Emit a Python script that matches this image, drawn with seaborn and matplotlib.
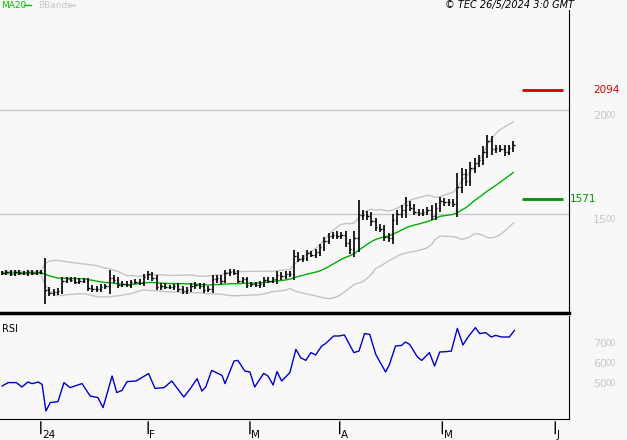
import numpy as np
import pandas as pd
import matplotlib
matplotlib.use("Agg")
import matplotlib.pyplot as plt
import seaborn as sns

closes = [1215,1220,1212,1222,1218,1214,1220,1216,1222,1218,
          1135,1120,1125,1130,1180,1185,1183,1175,1180,1178,
          1145,1140,1138,1150,1155,1190,1183,1160,1165,1158,
          1172,1175,1170,1195,1210,1190,1150,1155,1150,1148,
          1152,1140,1130,1135,1155,1158,1152,1135,1140,1185,
          1190,1180,1215,1222,1218,1180,1185,1160,1162,1158,
          1165,1183,1180,1185,1205,1200,1210,1210,1300,1285,
          1290,1310,1305,1315,1340,1370,1395,1400,1395,1400,
          1360,1330,1385,1495,1495,1490,1465,1435,1430,1390,
          1385,1470,1500,1520,1545,1530,1510,1505,1510,1520,
          1490,1530,1560,1555,1555,1550,1630,1690,1660,1720,
          1745,1760,1800,1850,1810,1815,1810,1800,1815,1830]
spreads = [30,25,30,25,30,25,30,25,30,25,
           200,40,35,40,45,40,35,35,40,30,
           45,40,35,40,30,120,45,40,35,30,
           35,30,35,45,40,35,50,40,35,30,
           35,40,45,40,35,40,35,40,35,55,
           50,45,40,40,35,40,35,40,35,30,
           35,40,35,40,60,45,40,40,80,45,
           40,45,40,45,50,50,45,40,45,40,
           55,60,100,200,70,60,60,50,45,55,
           50,80,60,60,110,50,45,45,40,45,
           60,60,60,50,45,45,190,90,80,80,
           70,60,70,90,70,45,40,60,45,55]
rsi_idx = [0,1.4,3.3,4.6,6.0,7.0,8.4,9.3,10.2,11.2,13,14.4,15.8,18.6,20.5,22.3,23.5,25.6,26.7,27.9,
           29.1,31.2,34.1,35.6,37.7,39.5,42.3,43.7,45.4,46.5,47.4,48.8,51.2,51.9,54,54.9,56.5,57.7,58.8,60.9,
           61.9,63.1,64,65.1,67,68.4,69.5,70.7,71.9,73,74.4,75.3,77.2,78.4,79.7,81.9,83.1,84.4,85.6,87,
           87.4,89.3,90.2,91.6,93,93.9,94.9,96.7,97.7,99.5,100.7,101.9,103.5,104.6,106,107.3,108.4,110.2,111.2,112.6,
           113.9,114.9,116.3,118.1,119.3]
rsi_val = [50.0,51.7,51.7,49.5,52,51.2,52,50.8,37.5,41.7,42.2,51.7,49.2,51.2,45,44.2,39.2,55,46.7,47.8,
           52.2,52.5,56.2,48.8,49.2,52.5,44.5,48.3,53.7,47.5,49.5,57.8,55.3,51.2,62.5,62.8,57.5,57,49.5,56.3,
           55,50.5,57.2,52.5,56.7,68.3,64.2,62.8,66.7,65.5,70,71.2,75,75,75.5,66.7,67.5,76.2,75.8,65.8,
           64.2,57,60.8,70,70.3,72,70.8,64.5,62.8,66.7,60,67,67.2,67.5,78.8,70.5,74.2,79.2,76.2,76.7,
           74.5,75.3,74.5,74.5,77.8]
tick_pos = [9, 34, 57.7, 78.6, 102.5, 128.8]
tick_labels = ["24", "F", "M", "A", "M", "J"]
level_hi, level_lo = 2094, 1571
grid_levels = [2000, 1500]
rsi_levels = [70, 60, 50]

BG = "#f8f8f8"
plt.rcParams["font.family"] = "DejaVu Sans"
fig = plt.figure(figsize=(6.27, 4.4), dpi=100, facecolor=BG)
W, H = 627, 440
def rect(x0, y0, x1, y1):
    return [x0 / W, 1 - y1 / H, (x1 - x0) / W, (y1 - y0) / H]

ax = fig.add_axes(rect(0, 10, 569, 313), facecolor=BG)
ax2 = fig.add_axes(rect(0, 316, 569, 419), facecolor=BG)

n = len(closes)
df = pd.DataFrame({"i": np.arange(n), "close": closes, "spread": spreads})
df["open"] = df["close"].shift(1).fillna(df["close"])
df["high"] = df[["open", "close"]].max(axis=1) + df["spread"] * 0.35
df["low"] = df[["open", "close"]].min(axis=1) - df["spread"] * 0.35
df["ma"] = df["close"].rolling(20, min_periods=1).mean()
sd = df["close"].rolling(20, min_periods=2).std().bfill()
df["up"] = df["ma"] + 2 * sd
df["dn"] = df["ma"] - 2 * sd

XL = (-0.5, 132)
for lv in grid_levels:
    ax.axhline(lv, color="#c8c8c8", lw=1)
sns.lineplot(data=df, x="i", y="up", ax=ax, color="#c4c4c4", lw=1)
sns.lineplot(data=df, x="i", y="dn", ax=ax, color="#c4c4c4", lw=1)
sns.lineplot(data=df, x="i", y="ma", ax=ax, color="#00b000", lw=1)
ax.vlines(df["i"], df["low"], df["high"], color="black", lw=1.2)
ax.hlines(df["open"], df["i"] - 0.35, df["i"], color="black", lw=1)
ax.hlines(df["close"], df["i"], df["i"] + 0.35, color="black", lw=1)
ax.hlines(level_hi, 121, 130.5, color="#d00000", lw=2)
ax.hlines(level_lo, 121, 130.5, color="#009000", lw=2)
ax.set_xlim(*XL)
ax.set_ylim(1024, 2480)

sns.lineplot(x=rsi_idx, y=rsi_val, ax=ax2, color="#0000cc", lw=1)
ax2.set_xlim(*XL)
ax2.set_ylim(33.5, 85)

for a in (ax, ax2):
    a.set_xticks([]); a.set_yticks([])
    a.set_xlabel(""); a.set_ylabel("")
    for s in ("top", "left"):
        a.spines[s].set_visible(False)
    a.spines["right"].set_color("black")
    a.spines["bottom"].set_color("black")
ax.spines["bottom"].set_linewidth(2.5)

for p, lab in zip(tick_pos, tick_labels):
    ax2.annotate("", xy=(p, 0), xycoords=("data", "axes fraction"),
                 xytext=(p, -0.17), textcoords=("data", "axes fraction"),
                 arrowprops=dict(arrowstyle="-", color="black", lw=1))
    ax2.text(p + 0.3, -0.2, lab, transform=ax2.get_xaxis_transform(),
             fontsize=7.5, va="bottom", ha="left")

def sup_label(axis, val, y):
    s = str(val)
    axis.text(1.042, y, s[:2], transform=axis.get_yaxis_transform(), color="#c8c8c8",
              fontsize=8, va="top", ha="left")
    axis.text(1.065, y, s[2:] if len(s) > 2 else "00", transform=axis.get_yaxis_transform(),
              color="#c8c8c8", fontsize=6, va="top", ha="left")
for lv in grid_levels:
    sup_label(ax, lv, lv - 5)
for lv in rsi_levels:
    sup_label(ax2, lv, lv + 3.5)
ax.text(1.042, level_hi, str(level_hi), transform=ax.get_yaxis_transform(),
        color="#d00000", fontsize=7.5, va="center", ha="left")
ax.text(1.002, level_lo, str(level_lo), transform=ax.get_yaxis_transform(),
        color="#009000", fontsize=7.5, va="center", ha="left")

ax2.text(0.004, 0.92, "RSI", transform=ax2.transAxes, fontsize=7, va="top")

fig.text(1 / W, 1 - 5 / H, "MA20", color="#00c000", fontsize=6.5, va="center")
fig.add_artist(plt.Line2D([24 / W, 31 / W], [1 - 5 / H] * 2, color="#00c000", lw=1))
fig.text(38 / W, 1 - 5 / H, "BBands", color="#c8c8c8", fontsize=6.5, va="center")
fig.add_artist(plt.Line2D([68 / W, 75 / W], [1 - 5 / H] * 2, color="#c8c8c8", lw=1))
fig.text(574 / W, 1 - 5 / H, "\u00a9 TEC 26/5/2024 3:0 GMT", fontsize=7, style="italic",
         va="center", ha="right")

fig.savefig("out.png", dpi=100, facecolor=BG)
